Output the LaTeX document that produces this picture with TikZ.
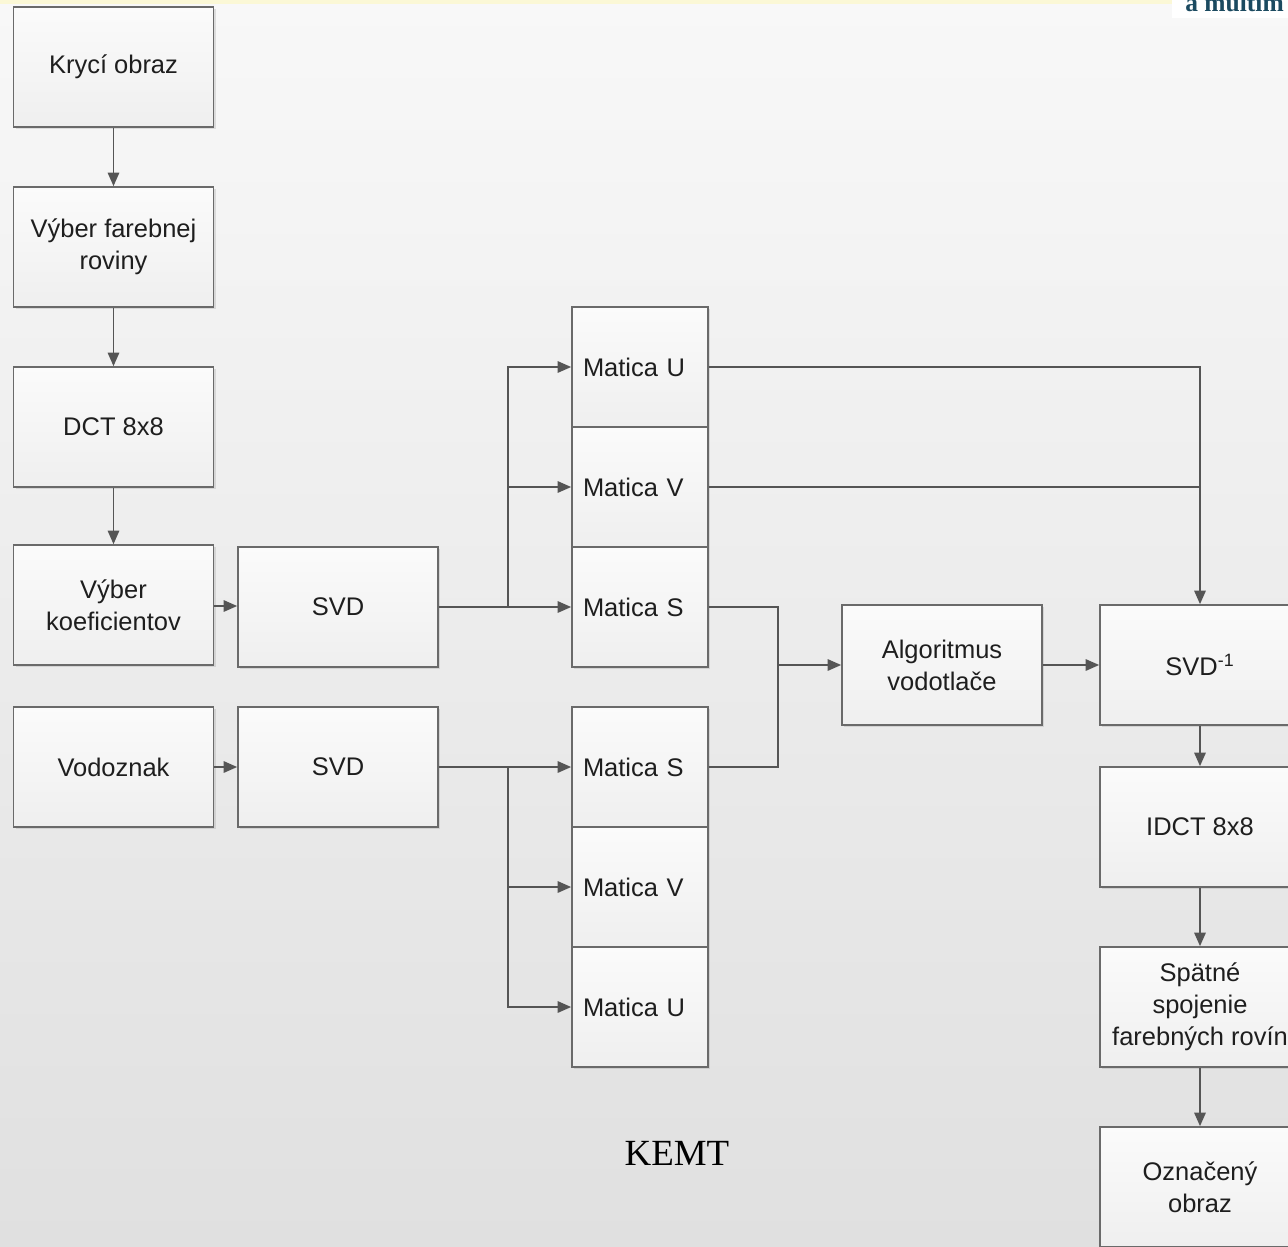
\documentclass[tikz,border=0pt]{standalone}
\usepackage{fontspec}
\setmainfont{Liberation Sans}
\newfontfamily\serifface{Liberation Serif}
\usetikzlibrary{arrows.meta,shadows}
\definecolor{linec}{HTML}{555555}
\definecolor{boxc}{HTML}{6A6A6A}
\definecolor{boxtop}{HTML}{FBFBFB}
\definecolor{boxbot}{HTML}{EFEFEF}
\definecolor{txtc}{HTML}{1E1E1E}
\definecolor{bgtop}{HTML}{F8F8F8}
\definecolor{bgbot}{HTML}{E0E0E0}
\definecolor{bandc}{HTML}{FBF8D6}
\definecolor{tealc}{HTML}{1B4A60}
\begin{document}
\begin{tikzpicture}[x=0.02cm,y=-0.02cm,
  blk/.style={draw=boxc, line width=1pt, top color=boxtop, bottom color=boxbot,
    minimum width=4cm, minimum height=2.4cm, inner sep=0pt, align=center,
    font=\fontsize{14.5}{18.2}\selectfont, text=txtc,
    drop shadow={shadow xshift=1.2pt, shadow yshift=-1.2pt, opacity=0.22}},
  mat/.style={blk, minimum width=2.72cm, text width=2.28cm, inner xsep=0.22cm, align=left},
  conn/.style={draw=linec, line width=0.85pt, -{Triangle[length=0.27cm,width=0.23cm]}},
  plain/.style={draw=linec, line width=0.85pt}]
\useasboundingbox (0,0) rectangle (1288,1247);
\fill[top color=bgtop, bottom color=bgbot] (0,0) rectangle (1288,1247);
\fill[bandc] (0,0) rectangle (1172,4);
\fill[white] (1172,0) rectangle (1288,18);
\node[anchor=base west, inner sep=0pt, text=tealc, font=\serifface\bfseries\fontsize{14.5}{16}\selectfont] (hdr) at (1185,11.5) {a multim};

% left column
\node[blk] (krycie) at (113.5,67) {Krycí obraz};
\node[blk] (vyberf) at (113.5,247) {Výber farebnej\\roviny};
\node[blk] (dct) at (113.5,427) {DCT 8x8};
\node[blk] (koef) at (113.5,605) {Výber\\koeficientov};
\node[blk] (vodo) at (113.5,767) {Vodoznak};
% SVD
\node[blk] (svdA) at (338,607) {SVD};
\node[blk] (svdB) at (338,767) {SVD};
% matrices
\node[mat] (mUa) at (640,367) {Matica U};
\node[mat] (mVa) at (640,487) {Matica V};
\node[mat] (mSa) at (640,607) {Matica S};
\node[mat] (mSb) at (640,767) {Matica S};
\node[mat] (mVb) at (640,887) {Matica V};
\node[mat] (mUb) at (640,1007) {Matica U};
% right part
\node[blk] (alg) at (942,665) {Algoritmus\\vodotlače};
\node[blk] (isvd) at (1200,665) {SVD\textsuperscript{-1}};
\node[blk] (idct) at (1200,827) {IDCT 8x8};
\node[blk] (spat) at (1200,1007) {Spätné\\spojenie\\farebných rovín};
\node[blk] (ozn) at (1200,1187) {Označený\\obraz};

\node[font=\serifface\fontsize{21}{25}\selectfont, text=black] (kemt) at (677,1153) {KEMT};

% connectors
\draw[conn] (krycie) -- (vyberf);
\draw[conn] (vyberf) -- (dct);
\draw[conn] (dct) -- (koef);
\draw[conn] ([yshift=-0.02cm]koef.east) -- ([yshift=-0.02cm]koef.east -| svdA.west);
\draw[conn] (vodo) -- (svdB);
\draw[conn] (svdA) -- (mSa);
\coordinate (jA) at (508,607);
\draw[conn] (jA) |- (mUa.west);
\draw[conn] (jA) |- (mVa.west);
\draw[conn] (svdB) -- (mSb);
\coordinate (jB) at (508,767);
\draw[conn] (jB) |- (mVb.west);
\draw[conn] (jB) |- (mUb.west);
\coordinate (jC) at (778,665);
\draw[plain] (mSa.east) -| (jC);
\draw[plain] (mSb.east) -| (jC);
\draw[conn] (jC) -- (alg.west);
\draw[conn] (mUa.east) -| (isvd.north);
\draw[plain] (mVa.east) -- (mVa.east -| isvd.north);
\draw[conn] (alg) -- (isvd);
\draw[conn] (isvd) -- (idct);
\draw[conn] (idct) -- (spat);
\draw[conn] (spat) -- (ozn);
\end{tikzpicture}
\end{document}
